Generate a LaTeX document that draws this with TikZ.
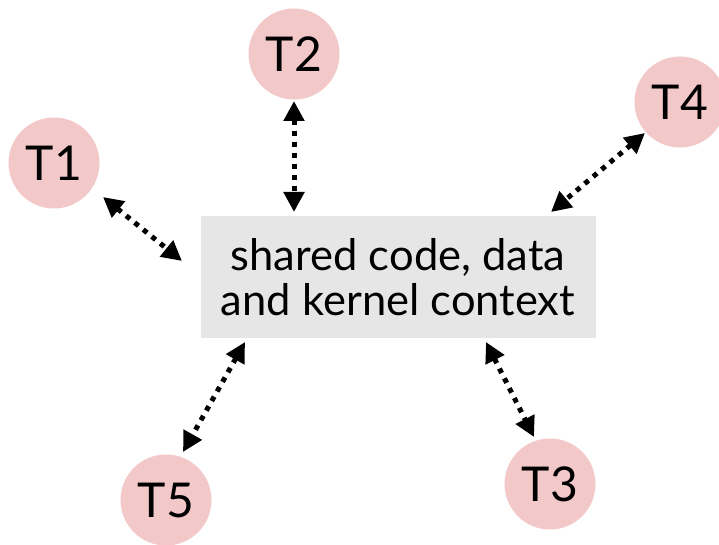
\documentclass[tikz,border=0pt]{standalone}
\usepackage{fontspec}
\setmainfont{Lato}
\usetikzlibrary{arrows.meta}
\definecolor{pinkfill}{HTML}{F2C8C8}
\definecolor{boxfill}{HTML}{E6E6E6}
\tikzset{
  thread/.style={circle, fill=pinkfill, minimum size=91pt, inner sep=0pt, font=\fontsize{48}{48}\selectfont},
  sharedbox/.style={rectangle, fill=boxfill, minimum width=395pt, minimum height=122pt, inner sep=0pt, align=center, font=\fontsize{43.5}{45}\selectfont},
  link/.style={line width=5pt, dash pattern=on 5pt off 6pt, {Triangle[length=20pt,width=20pt]}-{Triangle[length=20pt,width=20pt]}}
}
\begin{document}
\begin{tikzpicture}[x=1pt,y=-1pt]
\useasboundingbox (0,0) rectangle (719,545);
\node[sharedbox] (box) at (398,277) {shared code, data\\and kernel context};
\node[thread] (t1) at (54,163) {T1};
\node[thread] (t2) at (294,54) {T2};
\node[thread] (t3) at (550,484) {T3};
\node[thread] (t4) at (680,102) {T4};
\node[thread] (t5) at (166,500) {T5};
\coordinate (a1s) at (103,197); \coordinate (a1e) at (182,261);
\coordinate (a2s) at (294,101); \coordinate (a2e) at (294,212);
\coordinate (a3s) at (486,342); \coordinate (a3e) at (534,437);
\coordinate (a4s) at (645,133); \coordinate (a4e) at (551,212);
\coordinate (a5s) at (245,342); \coordinate (a5e) at (183,452);
\draw[link] (a1s) -- (a1e);
\draw[link] (a2s) -- (a2e);
\draw[link] (a3s) -- (a3e);
\draw[link] (a4s) -- (a4e);
\draw[link] (a5s) -- (a5e);
\end{tikzpicture}
\end{document}
